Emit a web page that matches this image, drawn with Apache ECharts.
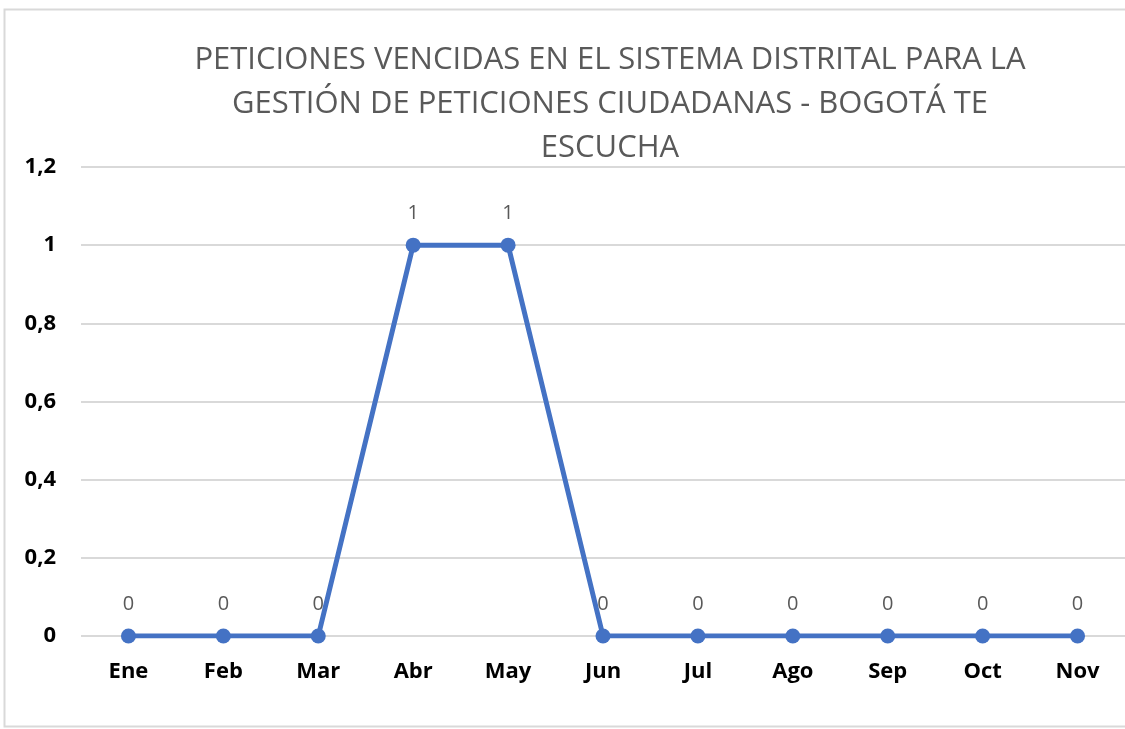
<!DOCTYPE html>
<html><head><meta charset="utf-8">
<script src="https://cdn.jsdelivr.net/npm/echarts@6/dist/echarts.min.js"></script>
<style>html,body{margin:0;padding:0;background:#fff}#c{width:1125px;height:729px}</style>
</head><body><div id="c"></div>
<script>
var categories = ['Ene','Feb','Mar','Abr','May','Jun','Jul','Ago','Sep','Oct','Nov'];
var values = [0,0,0,1,1,0,0,0,0,0,0];
var titleText = 'PETICIONES VENCIDAS EN EL SISTEMA DISTRITAL PARA LA\nGESTIÓN DE PETICIONES CIUDADANAS - BOGOTÁ TE\nESCUCHA';
var chart = echarts.init(document.getElementById('c'));
chart.setOption({
  animation:false,
  graphic:[{type:'rect',shape:{x:4.5,y:9.5,width:1130,height:717},style:{fill:'none',stroke:'#d9d9d9',lineWidth:2},silent:true}],
  title:{text:titleText,left:605,textAlign:'center',top:33,textStyle:{color:'#595959',fontSize:31,fontWeight:'normal',fontFamily:'Open Sans',lineHeight:44}},
  grid:{left:81,right:0,top:167,bottom:93,containLabel:false},
  xAxis:{type:'category',data:categories,boundaryGap:true,axisLine:{show:false},axisTick:{show:false},
    axisLabel:{color:'#000',fontWeight:'bold',fontSize:22,fontFamily:'Open Sans',margin:25}},
  yAxis:{type:'value',min:0,max:1.2,interval:0.2,axisLine:{show:false},axisTick:{show:false},
    splitLine:{lineStyle:{color:'#d9d9d9',width:2}},
    axisLabel:{color:'#000',fontWeight:'bold',fontSize:22,fontFamily:'Open Sans',margin:25,
      formatter:function(v){return String(Math.round(v*10)/10).replace('.',',');}}},
  series:[{type:'line',data:values,symbol:'circle',symbolSize:15,
    lineStyle:{color:'#4472C4',width:5},itemStyle:{color:'#4472C4'},
    label:{show:true,position:'top',distance:14,color:'#595959',fontSize:20,fontFamily:'Open Sans'}}]
});
</script></body></html>
